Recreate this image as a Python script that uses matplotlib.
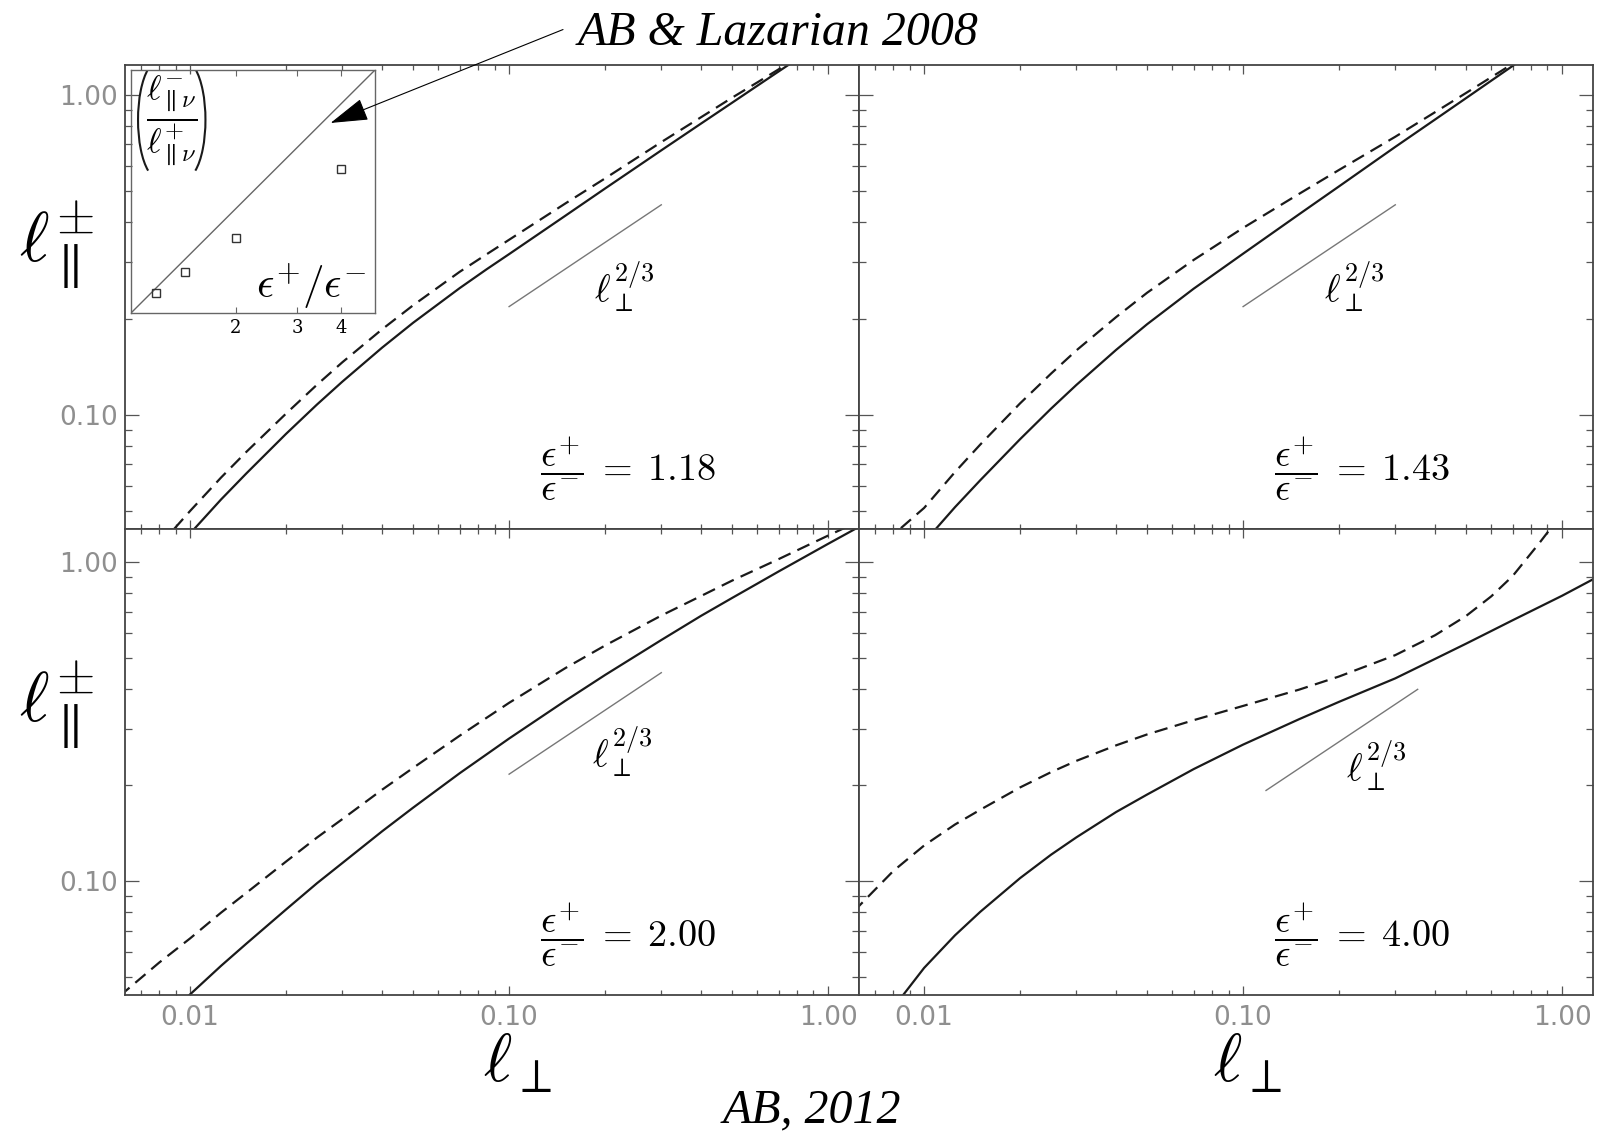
import matplotlib
matplotlib.use("Agg")
import matplotlib.pyplot as plt
from matplotlib.patches import Arc, FancyArrowPatch
from matplotlib.ticker import FixedLocator, LogLocator, NullFormatter, NullLocator

plt.rcParams["mathtext.fontset"] = "cm"

# l_perp sample points shared by every curve
l_perp = [0.006, 0.008, 0.01, 0.0125, 0.015, 0.02, 0.025, 0.03, 0.04, 0.05, 0.07,
          0.085, 0.1, 0.15, 0.2, 0.3, 0.4, 0.5, 0.6, 0.7, 0.85, 1.0, 1.3]

# l_par for the two Elsasser fields (solid / dashed), one pair per panel
par_a_118 = [0.0236, 0.033, 0.0426, 0.0544, 0.0656, 0.0873, 0.1078, 0.127, 0.1623,
             0.194, 0.249, 0.2851, 0.318, 0.419, 0.510, 0.671, 0.814, 0.945, 1.068,
             1.184, 1.347, 1.50, 1.80]
par_b_118 = [0.028, 0.039, 0.0501, 0.0637, 0.0766, 0.101, 0.1243, 0.146, 0.1852,
             0.220, 0.280, 0.3176, 0.3526, 0.4577, 0.5485, 0.712, 0.852, 0.980, 1.094,
             1.202, 1.358, 1.504, 1.80]
par_a_143 = [0.022, 0.031, 0.040, 0.0515, 0.0625, 0.084, 0.1046, 0.124, 0.1597,
             0.192, 0.248, 0.2844, 0.319, 0.424, 0.518, 0.688, 0.838, 0.977, 1.108,
             1.232, 1.411, 1.58, 1.90]
par_b_143 = [0.033, 0.0422, 0.0512, 0.0663, 0.0808, 0.1087, 0.1346, 0.159, 0.2022,
             0.2408, 0.305, 0.3457, 0.384, 0.491, 0.583, 0.740, 0.8834, 1.014, 1.136,
             1.251, 1.421, 1.58, 1.90]
par_a_200 = [0.027, 0.0358, 0.0442, 0.0543, 0.0637, 0.0816, 0.0986, 0.114, 0.1434,
             0.170, 0.218, 0.2498, 0.280, 0.3676, 0.443, 0.570, 0.679, 0.772, 0.8563,
             0.935, 1.042, 1.141, 1.318]
par_b_200 = [0.0436, 0.0556, 0.0662, 0.0797, 0.0919, 0.1153, 0.1371, 0.1565, 0.1936,
             0.2265, 0.2858, 0.3252, 0.3623, 0.4653, 0.548, 0.680, 0.7835, 0.875, 0.9517,
             1.022, 1.121, 1.211, 1.368]
par_a_400 = [0.0276, 0.0401, 0.0535, 0.0677, 0.0802, 0.1023, 0.1211, 0.1372, 0.1648,
             0.1869, 0.2246, 0.2473, 0.268, 0.3221, 0.365, 0.4323, 0.4976, 0.5552, 0.6084,
             0.6575, 0.7239, 0.7846, 0.902]
par_b_400 = [0.0802, 0.1076, 0.1294, 0.1506, 0.1675, 0.1968, 0.2197, 0.2383, 0.2666,
             0.2884, 0.3197, 0.3381, 0.3543, 0.3986, 0.4382, 0.5112, 0.5902, 0.678, 0.7815,
             0.9047, 1.15, 1.42, 1.93]

ratio_labels = ["1.18", "1.43", "2.00", "4.00"]

# l_perp^{2/3} guide segments: (x start, x end, y at start)
guides = [(0.1, 0.3, 0.218), (0.1, 0.3, 0.218), (0.1, 0.3, 0.2165), (0.118, 0.3526, 0.1925)]
guide_text_pos = [(0.229, 0.251), (0.223, 0.251), (0.226, 0.2545), (0.262, 0.230)]

# inset: l-/l+ ratio against eps+/eps-
inset_eps = [1.18, 1.43, 2.0, 4.0]
inset_ratio = [1.145, 1.31, 1.645, 2.60]
inset_diag = [1.0, 5.0]

W, H = 1598, 1135
fig = plt.figure(figsize=(W / 100, H / 100), dpi=100)

pw = 734 / W
lefts = [125 / W, 859 / W]
rows = [(1 - 529 / H, 464 / H), (1 - 995 / H, 466 / H)]
ylims = [(0.044, 1.24), (0.044, 1.27)]

panels = [
    (0, 0, par_a_118, par_b_118),
    (0, 1, par_a_143, par_b_143),
    (1, 0, par_a_200, par_b_200),
    (1, 1, par_a_400, par_b_400),
]

frame_col = "#444444"
tick_col = "#555555"
label_col = "#8f8f8f"

for i, (r, c, solid, dashed) in enumerate(panels):
    bottom, height = rows[r]
    ax = fig.add_axes([lefts[c], bottom, pw, height])
    ax.set_xscale("log")
    ax.set_yscale("log")
    ax.set_xlim(0.00625, 1.25)
    ax.set_ylim(*ylims[r])

    ax.plot(l_perp, solid, color="#1a1a1a", lw=1.6, solid_joinstyle="round")
    ax.plot(l_perp, dashed, color="#1a1a1a", lw=1.6, dashes=(6, 3.4))

    x0, x1, y0 = guides[i]
    ax.plot([x0, x1], [y0, y0 * (x1 / x0) ** (2 / 3)], color="#777777", lw=1.0)
    gx, gy = guide_text_pos[i]
    ax.text(gx, gy, r"$\ell_{\perp}^{2/3}$", fontsize=27, ha="center", va="center")

    ax.text(0.565, 0.13, r"$\dfrac{\epsilon^{+}}{\epsilon^{-}}\;=\;%s$" % ratio_labels[i],
            transform=ax.transAxes, fontsize=27.5, ha="left", va="center")

    ax.xaxis.set_major_locator(FixedLocator([0.01, 0.1, 1.0]))
    ax.xaxis.set_minor_locator(LogLocator(base=10, subs=range(2, 10)))
    ax.yaxis.set_major_locator(FixedLocator([0.1, 1.0]))
    ax.yaxis.set_minor_locator(LogLocator(base=10, subs=range(2, 10)))
    ax.xaxis.set_minor_formatter(NullFormatter())
    ax.yaxis.set_minor_formatter(NullFormatter())

    ax.tick_params(which="both", direction="in", top=True, right=True,
                   color=tick_col, width=0.9, labelcolor=label_col, labelsize=19)
    ax.tick_params(axis="x", which="major", length=6.5, pad=7)
    ax.tick_params(axis="x", which="minor", length=3.3)
    ax.tick_params(axis="y", which="major", length=10, pad=5)
    ax.tick_params(axis="y", which="minor", length=5)

    if r == 1:
        ax.set_xticklabels(["0.01", "0.10", "1.00"])
    else:
        ax.set_xticklabels([])
    if c == 0:
        ax.set_yticklabels(["0.10", "1.00"])
    else:
        ax.set_yticklabels([])

    for sp in ax.spines.values():
        sp.set_color(frame_col)
        sp.set_linewidth(1.3)

# inset in the first panel
axi = fig.add_axes([130.7 / W, 1 - 313.3 / H, 244.3 / W, 243.3 / H])
axi.patch.set_facecolor("none")
axi.set_xscale("log")
axi.set_yscale("log")
axi.set_xlim(1, 5)
axi.set_ylim(1, 5)
axi.plot(inset_diag, inset_diag, color="#666666", lw=1.0)
axi.plot(inset_eps, inset_ratio, ls="none", marker="s", ms=6, mfc="none",
         mec="#333333", mew=1.0)
axi.xaxis.set_major_locator(FixedLocator([2, 3, 4]))
axi.xaxis.set_minor_locator(NullLocator())
axi.set_xticklabels(["2", "3", "4"])
axi.yaxis.set_major_locator(NullLocator())
axi.yaxis.set_minor_locator(NullLocator())
for lab in axi.get_xticklabels():
    lab.set_fontfamily("DejaVu Serif")
axi.tick_params(axis="x", which="major", direction="in", top=True, length=4,
                color="#666666", labelsize=13, pad=4)
for sp in axi.spines.values():
    sp.set_color("#666666")
    sp.set_linewidth(1.0)

# ratio symbol: fraction between two tall thin parentheses
axi.text(0.168, 0.795,
         r"$\dfrac{\ell^{-}_{\parallel\nu}}{\ell^{+}_{\parallel\nu}}$",
         transform=axi.transAxes, fontsize=25, ha="center", va="center")
for cx, t1, t2 in ((0.112, 101, 259), (0.224, -79, 79)):
    axi.add_patch(Arc((cx, 0.795), 0.164, 0.48, theta1=t1, theta2=t2,
                      transform=axi.transAxes, color="#1a1a1a", lw=1.5))
axi.text(0.74, 0.11, r"$\epsilon^{+}/\epsilon^{-}$", transform=axi.transAxes,
         fontsize=31, ha="center", va="center")

# axis titles
for yc in (245, 705):
    fig.text(57 / W, 1 - yc / H, r"$\ell^{\pm}_{\parallel}$", fontsize=51,
             ha="center", va="center")
for xc in (518, 1248):
    fig.text(xc / W, 1 - 1062 / H, r"$\ell_{\perp}$", fontsize=49,
             ha="center", va="center")

# references
fig.text(578 / W, 1 - 45 / H, "AB & Lazarian 2008", fontsize=34.5,
         family="Liberation Serif", style="italic", ha="left", va="baseline")
fig.text(812 / W, 1 - 1122 / H, "AB, 2012", fontsize=34.5,
         family="Liberation Serif", style="italic", ha="center", va="baseline")

arrow = FancyArrowPatch((565.6 / W, 1 - 28.5 / H), (328 / W, 1 - 124 / H),
                        transform=fig.transFigure,
                        arrowstyle="-|>,head_length=24,head_width=7.2",
                        mutation_scale=1, color="black", lw=0.8)
fig.add_artist(arrow)

fig.savefig("out.png", dpi=100)
